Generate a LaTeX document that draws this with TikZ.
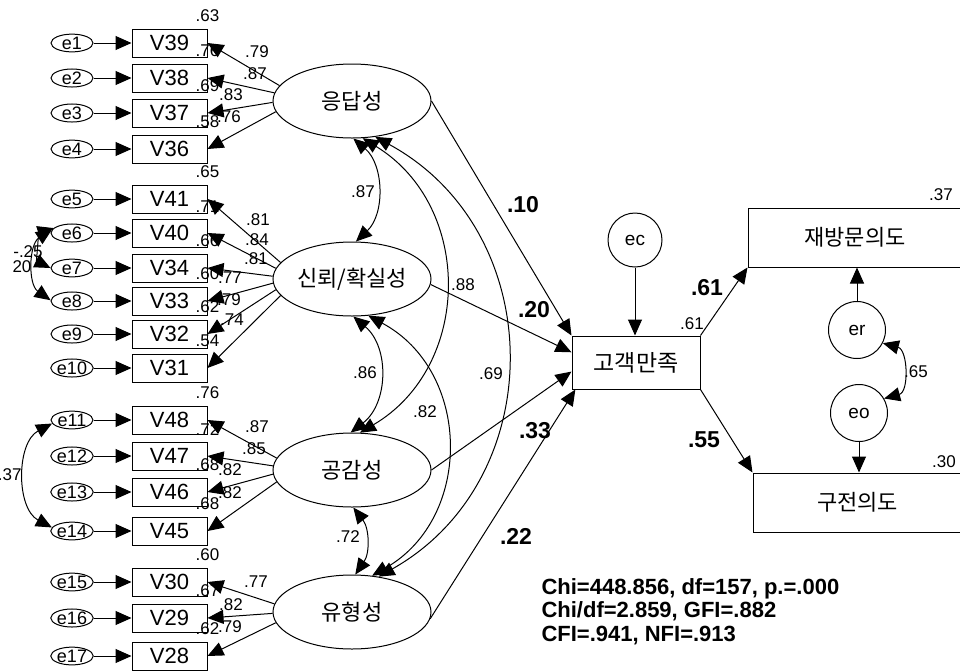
\documentclass[tikz,border=0pt]{standalone}
\usepackage{fontspec}
\setmainfont{Liberation Sans}
\newfontfamily\krfont{Noto Sans CJK KR}
\usetikzlibrary{arrows.meta,shapes.geometric,positioning}

\tikzset{
  obs/.style={draw, rectangle, minimum width=37.5pt, minimum height=14pt, inner sep=0pt, font=\fontsize{11}{13}\selectfont},
  err/.style={draw, ellipse, minimum width=21pt, minimum height=8.5pt, inner sep=0pt, font=\fontsize{9}{10}\selectfont},
  lat/.style={draw, ellipse, minimum width=79pt, minimum height=37pt, inner xsep=-4pt, inner ysep=0pt, font=\krfont\fontsize{11}{13}\selectfont},
  dv/.style={draw, rectangle, inner sep=0pt, font=\krfont\fontsize{11}{13}\selectfont},
  resid/.style={draw, circle, inner sep=0pt, font=\fontsize{9.5}{11}\selectfont},
  num/.style={inner sep=0pt, font=\fontsize{8.5}{10}\selectfont},
  coef/.style={inner sep=0pt, font=\bfseries\fontsize{11.5}{13}\selectfont},
  arr/.style={-{Triangle[length=8pt,width=7pt]}},
  cov/.style={{Triangle[length=8pt,width=7pt]}-{Triangle[length=8pt,width=7pt]}},
}

\begin{document}
\begin{tikzpicture}[x=0.5pt, y=-0.5pt, line width=0.5pt]
\useasboundingbox (0,0) rectangle (960,671);
% error terms and indicators
\node[err] (e1) at (72,43) {e1};   \node[obs] (v39) at (169.5,43) {V39};
\node[err] (e2) at (72,78) {e2};   \node[obs] (v38) at (169.5,78) {V38};
\node[err] (e3) at (72,113) {e3};  \node[obs] (v37) at (169.5,113) {V37};
\node[err] (e4) at (72,149) {e4};  \node[obs] (v36) at (169.5,149) {V36};
\node[err] (e5) at (72,199) {e5};  \node[obs] (v41) at (169.5,199) {V41};
\node[err] (e6) at (72,233) {e6};  \node[obs] (v40) at (169.5,233) {V40};
\node[err] (e7) at (72,268) {e7};  \node[obs] (v34) at (169.5,268) {V34};
\node[err] (e8) at (72,301) {e8};  \node[obs] (v33) at (169.5,301) {V33};
\node[err] (e9) at (72,334) {e9};  \node[obs] (v32) at (169.5,334) {V32};
\node[err] (e10) at (72,368) {e10}; \node[obs] (v31) at (169.5,368) {V31};
\node[err] (e11) at (72,420) {e11}; \node[obs] (v48) at (169.5,420) {V48};
\node[err] (e12) at (72,456) {e12}; \node[obs] (v47) at (169.5,456) {V47};
\node[err] (e13) at (72,492) {e13}; \node[obs] (v46) at (169.5,492) {V46};
\node[err] (e14) at (72,531) {e14}; \node[obs] (v45) at (169.5,531) {V45};
\node[err] (e15) at (72,582) {e15}; \node[obs] (v30) at (169.5,582) {V30};
\node[err] (e16) at (72,618) {e16}; \node[obs] (v29) at (169.5,618) {V29};
\node[err] (e17) at (72,656) {e17}; \node[obs] (v28) at (169.5,656) {V28};
% latent factors
\node[lat] (resp) at (352,101) {응답성};
\node[lat] (rel) at (352,279) {신뢰/확실성};
\node[lat] (emp) at (352,470) {공감성};
\node[lat] (tang) at (352,612) {유형성};
% outcomes
\node[dv, minimum width=64pt, minimum height=26.5pt, font=\krfont\fontsize{11.5}{13}\selectfont] (sat) at (636,362.5) {고객만족};
\node[dv, minimum width=107pt, minimum height=29.5pt] (revisit) at (855,237.5) {재방문의도};
\node[dv, minimum width=104.5pt, minimum height=29.5pt] (wom) at (857.5,502.5) {구전의도};
\node[resid, minimum size=27pt] (ec) at (635,240) {ec};
\node[resid, minimum size=28.5pt] (er) at (857,330) {er};
\node[resid, minimum size=28.5pt] (eo) at (859,413) {eo};
% squared multiple correlations
\node[num, above=3pt of v39.north east] (q39) {.63};
\node[num, above=3pt of v38.north east] (q38) {.76};
\node[num, above=3pt of v37.north east] (q37) {.69};
\node[num, above=3pt of v36.north east] (q36) {.58};
\node[num, above=3pt of v41.north east] (q41) {.65};
\node[num, above=3pt of v40.north east] (q40) {.71};
\node[num, above=3pt of v34.north east] (q34) {.66};
\node[num, above=3pt of v33.north east] (q33) {.60};
\node[num, above=3pt of v32.north east] (q32) {.62};
\node[num, above=3pt of v31.north east] (q31) {.54};
\node[num, above=3pt of v48.north east] (q48) {.76};
\node[num, above=3pt of v47.north east] (q47) {.72};
\node[num, above=3pt of v46.north east] (q46) {.68};
\node[num, above=3pt of v45.north east] (q45) {.68};
\node[num, above=3pt of v30.north east] (q30) {.60};
\node[num, above=3pt of v29.north east] (q29) {.67};
\node[num, above=3pt of v28.north east] (q28) {.62};
% loadings
\node[num] (l39) at (257,52) {.79};
\node[num] (l38) at (255,74) {.87};
\node[num] (l37) at (231,95) {.83};
\node[num] (l36) at (229,117) {.76};
\node[num] (l41) at (258,220) {.81};
\node[num] (l40) at (257,240) {.84};
\node[num] (l34) at (256,259) {.81};
\node[num] (l33) at (230,278) {.77};
\node[num] (l32) at (229,300) {.79};
\node[num] (l31) at (232,320) {.74};
\node[num] (l48) at (257,427) {.87};
\node[num] (l47) at (254,449) {.85};
\node[num] (l46) at (230,470) {.82};
\node[num] (l45) at (230,493) {.82};
\node[num] (l30) at (256,582) {.77};
\node[num] (l29) at (231,605) {.82};
\node[num] (l28) at (230,627) {.79};
% covariances and paths
\node[num] (c1) at (363,192) {.87};
\node[num] (c2) at (463,285) {.88};
\node[num] (c3) at (491,374) {.69};
\node[num] (c4) at (365,373) {.86};
\node[num] (c5) at (425,412) {.82};
\node[num] (c6) at (348,537) {.72};
\node[num] (c7) at (28,252) {-.25};
\node[num] (c8) at (22,267) {20};
\node[num, anchor=east] (c9) at (22,475) {.37};
\node[num] (c10) at (916,372) {.65};
\node[coef] (p1) at (523,205) {.10};
\node[coef] (p2) at (534,310) {.20};
\node[coef] (p3) at (535,431) {.33};
\node[coef] (p4) at (516,536) {.22};
\node[coef] (p5) at (707,288) {.61};
\node[coef] (p6) at (704,440) {.55};
\node[num] (q1) at (692,324) {.61};
\node[num] (q2) at (941,195) {.37};
\node[num] (q3) at (944,462) {.30};
\node[anchor=north west, inner sep=0pt, align=left, font=\bfseries\fontsize{11}{11.75}\selectfont] (fit) at (541,578) {Chi=448.856, df=157, p.=.000\\Chi/df=2.859, GFI=.882\\CFI=.941, NFI=.913};
% error arrows
\draw[arr] (e1) -- (v39);  \draw[arr] (e2) -- (v38);  \draw[arr] (e3) -- (v37);
\draw[arr] (e4) -- (v36);  \draw[arr] (e5) -- (v41);  \draw[arr] (e6) -- (v40);
\draw[arr] (e7) -- (v34);  \draw[arr] (e8) -- (v33);  \draw[arr] (e9) -- (v32);
\draw[arr] (e10) -- (v31); \draw[arr] (e11) -- (v48); \draw[arr] (e12) -- (v47);
\draw[arr] (e13) -- (v46); \draw[arr] (e14) -- (v45); \draw[arr] (e15) -- (v30);
\draw[arr] (e16) -- (v29); \draw[arr] (e17) -- (v28);
% factor loadings
\draw[arr] (resp.168) -- (v39.east);
\draw[arr] (resp.174) -- (v38.east);
\draw[arr] (resp.181) -- (v37.east);
\draw[arr] (resp.188) -- (v36.east);
\draw[arr] (rel.167) -- (v41.east);
\draw[arr] (rel.172) -- (v40.east);
\draw[arr] (rel.178) -- (v34.east);
\draw[arr] (rel.183) -- (v33.east);
\draw[arr] (rel.188) -- (v32.east);
\draw[arr] (rel.193) -- (v31.east);
\draw[arr] (emp.171) -- (v48.east);
\draw[arr] (emp.177) -- (v47.east);
\draw[arr] (emp.183) -- (v46.east);
\draw[arr] (emp.189) -- (v45.east);
\draw[arr] (tang.174) -- (v30.east);
\draw[arr] (tang.181) -- (v29.east);
\draw[arr] (tang.188) -- (v28.east);
% structural paths
\draw[arr] (resp.east) -- (sat.north west);
\draw[arr] (rel.-4) -- (sat.171);
\draw[arr] (emp.east) -- (sat.188);
\draw[arr] (tang.-5) -- (sat.204);
\draw[arr] (ec) -- (ec |- sat.north);
\draw[arr] (sat.north east) -- (revisit.south west);
\draw[arr] (sat.south east) -- (wom.north west);
\draw[arr] (er) -- (er |- revisit.south);
\draw[arr] (eo) -- (eo |- wom.north);
% correlations
\draw[cov] (resp.-88) to[bend left=48] (rel.84);
\draw[cov] (resp.-74) to[bend left=59, looseness=1.13] (emp.78);
\draw[cov] (resp.-57) to[bend left=61, looseness=1.15] (tang.53);
\draw[cov] (rel.-88) to[bend left=51, looseness=1.05] (emp.92);
\draw[cov] (rel.-66) to[bend left=61, looseness=1.15] (tang.61);
\draw[cov] (emp.-88) to[bend left=36] (tang.85);
\draw[cov] (er.-27) to[out=-15, in=15, looseness=1.2] (eo.30);
\draw[cov] (e6.165) to[bend right=68] (e7.180);
\draw[cov] (e6.170) to[bend right=56] (e8.178);
\draw[cov] (e11.190) to[bend right=62] (e14.170);
\end{tikzpicture}
\end{document}
